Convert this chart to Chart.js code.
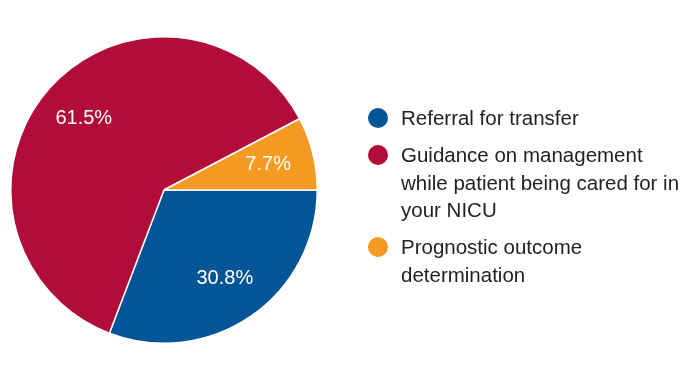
<!DOCTYPE html>
<html>
<head>
<meta charset="utf-8">
<script src="https://cdn.jsdelivr.net/npm/chart.js@4"></script>
<style>
    html, body { margin: 0; padding: 0; background: #fff; }
    #wrap { position: relative; width: 700px; height: 368px; }
    #legend {
        position: absolute; left: 368px; top: 104px; margin: 0; padding: 0;
        list-style: none; font-family: "Liberation Sans", Arial, sans-serif;
        font-size: 20.5px; line-height: 27.5px; color: #222;
    }
    #legend li { position: relative; padding-left: 33px; width: 285px; margin-bottom: 9.5px; }
    #legend li span {
        position: absolute; left: 0; top: 3.75px; width: 20px; height: 20px; border-radius: 50%;
    }
</style>
</head>
<body>
<div id="wrap">
    <canvas id="myChart" width="700" height="368"></canvas>
    <ul id="legend"></ul>
</div>
<script>
// categories and values (percent of responses)
var categories = ['Referral for transfer', 'Guidance on management while patient being cared for in your NICU', 'Prognostic outcome determination'];
var percents = [30.8, 61.5, 7.7];
var sliceColors = ['#045597', '#b10c3a', '#f59a22'];

// slice labels drawn inside, at ~70% of radius
var sliceLabels = {
    id: 'sliceLabels',
    afterDatasetsDraw: function(chart) {
        let ctx = chart.ctx;
        let meta = chart.getDatasetMeta(0);
        ctx.save();
        ctx.font = '20px "Liberation Sans", Arial, sans-serif';
        ctx.fillStyle = '#fff';
        ctx.textAlign = 'center';
        ctx.textBaseline = 'middle';
        meta.data.forEach(function(arc, i) {
            let p = arc.getProps(['x', 'y', 'startAngle', 'endAngle', 'outerRadius'], true);
            let mid = (p.startAngle + p.endAngle) / 2;
            let r = p.outerRadius * 0.7;
            ctx.fillText(percents[i].toFixed(1) + '%', p.x + Math.cos(mid) * r, p.y + Math.sin(mid) * r);
        });
        ctx.restore();
    }
};

let ctx = document.getElementById('myChart');
let myChart = new Chart(ctx, {
    type: 'pie',
    data: {
        labels: categories,
        datasets: [{
            data: percents,
            backgroundColor: sliceColors,
            borderColor: '#fff',
            borderWidth: 1.5
        }]
    },
    options: {
        responsive: false,
        animation: false,
        rotation: 90,
        layout: {
            padding: { left: 10, right: 382, top: 36, bottom: 24 }
        },
        plugins: {
            legend: { display: false },
            tooltip: { enabled: false }
        }
    },
    plugins: [sliceLabels]
});

// html legend, so long names can wrap
let legend = document.getElementById('legend');
categories.forEach(function(name, i) {
    let li = document.createElement('li');
    let dot = document.createElement('span');
    dot.style.background = sliceColors[i];
    li.appendChild(dot);
    li.appendChild(document.createTextNode(name));
    legend.appendChild(li);
});
</script>
</body>
</html>
